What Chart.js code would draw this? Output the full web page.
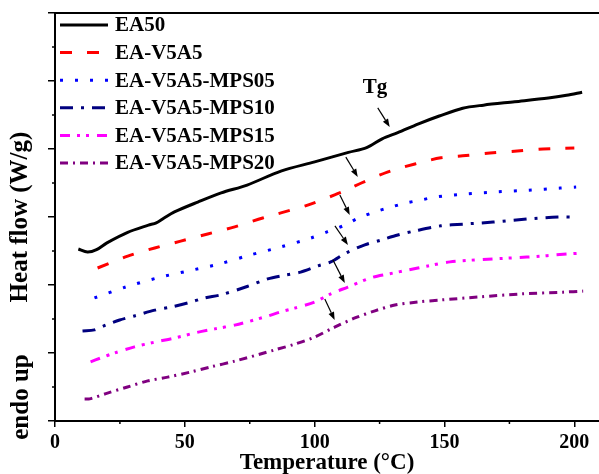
<!DOCTYPE html>
<html>
<head>
<meta charset="utf-8">
<script src="https://cdn.jsdelivr.net/npm/chart.js@4.4.1/dist/chart.umd.min.js"></script>
<style>
    html, body { margin: 0; padding: 0; background: #fff; }
    #wrap { width: 599px; height: 474px; }
</style>
</head>
<body>
<div id="wrap"><canvas id="dscChart"></canvas></div>
<script>
// Tên các mẫu
const sampleNames = ['EA50', 'EA-V5A5', 'EA-V5A5-MPS05', 'EA-V5A5-MPS10', 'EA-V5A5-MPS15', 'EA-V5A5-MPS20'];

// Nhiệt độ (°C) và heat flow (đơn vị tương đối) cho từng mẫu
const tempEA50 = [9, 12.5, 16, 20, 28, 36, 39, 42, 46, 55, 64, 74, 87, 100, 113, 120, 126, 132, 140, 148, 157, 165, 177, 190, 197, 203];
const flowEA50 = [5.06, 4.97, 5.04, 5.24, 5.55, 5.76, 5.83, 5.97, 6.15, 6.44, 6.71, 6.94, 7.35, 7.62, 7.9, 8.04, 8.3, 8.48, 8.74, 8.97, 9.2, 9.29, 9.39, 9.5, 9.58, 9.67];

const tempV5A5 = [16.4, 28, 38.4, 48.4, 58.8, 69.2, 80, 87, 97.3, 107.7, 113, 118, 128, 138.6, 148.6, 157, 167.5, 178, 188, 200];
const flowV5A5 = [4.5, 4.85, 5.09, 5.29, 5.5, 5.71, 5.97, 6.12, 6.35, 6.65, 6.82, 7.0, 7.32, 7.56, 7.74, 7.8, 7.88, 7.94, 8.0, 8.03];

const tempMPS05 = [15.2, 27.2, 39.5, 51.1, 63.4, 75, 87, 98.5, 105, 111.6, 116.6, 123.2, 129.3, 135, 141, 146.7, 158.6, 170.6, 182.5, 194.5, 200.7];
const flowMPS05 = [3.62, 3.94, 4.21, 4.41, 4.62, 4.88, 5.12, 5.38, 5.57, 5.76, 5.96, 6.15, 6.29, 6.41, 6.5, 6.59, 6.68, 6.74, 6.79, 6.85, 6.88];

const tempMPS10 = [10.6, 15.2, 19.5, 24.9, 30.6, 38.4, 44.5, 51.1, 57.6, 63.8, 73.4, 81.9, 88.5, 94.6, 101.2, 106.2, 112, 119.3, 125.5, 132, 138.6, 148.6, 157, 168.7, 181.7, 193.7, 200.3];
const flowMPS10 = [2.65, 2.68, 2.82, 2.97, 3.09, 3.26, 3.35, 3.47, 3.62, 3.71, 3.94, 4.18, 4.29, 4.38, 4.56, 4.68, 4.94, 5.18, 5.32, 5.47, 5.59, 5.74, 5.79, 5.85, 5.94, 6.0, 6.0];

const tempMPS15 = [13.7, 17.5, 22.9, 30.6, 38.4, 46.1, 53.8, 61.5, 69.2, 80.8, 86.9, 92.3, 100, 106.2, 112.8, 121.6, 128.2, 135.9, 143.6, 152.1, 166.7, 181.7, 197.2, 203];
const flowMPS15 = [1.74, 1.85, 2.0, 2.18, 2.32, 2.44, 2.59, 2.71, 2.82, 3.06, 3.21, 3.32, 3.5, 3.74, 3.94, 4.21, 4.32, 4.44, 4.56, 4.68, 4.76, 4.82, 4.91, 4.94];

const tempMPS20 = [11.4, 13.3, 20.2, 27.9, 35.7, 43.4, 52.2, 59.9, 69.2, 84.6, 92.3, 100, 107.7, 115.5, 123.2, 130.9, 139.7, 148.6, 163.7, 179.9, 195.7, 203.4];
const flowMPS20 = [0.65, 0.65, 0.82, 1.0, 1.18, 1.29, 1.44, 1.59, 1.76, 2.09, 2.26, 2.47, 2.76, 3.03, 3.24, 3.41, 3.5, 3.56, 3.65, 3.74, 3.79, 3.82];

// Nhãn trục x
const xTickLabels = [0, 50, 100, 150, 200];

// Mũi tên Tg (điểm đầu / điểm cuối theo dữ liệu)
const arrowFrom = [[124.3, 9.21], [112.0, 7.76], [109.7, 6.65], [107.8, 5.74], [107.0, 4.74], [103.9, 3.59]];
const arrowTo = [[128.9, 8.65], [116.6, 7.18], [113.5, 6.06], [112.8, 5.18], [111.6, 4.06], [107.7, 2.97]];
const tgLabel = 'Tg';
const tgLabelPos = [123.2, 9.82];

const FONT = "'Liberation Serif', 'Times New Roman', serif";

function toPoints(xs, ys) {
    return xs.map((x, i) => ({x: x, y: ys[i]}));
}

const seriesStyle = [
    {color: '#000000', dash: [], width: 3},
    {color: '#ff0000', dash: [12, 15], width: 3},
    {color: '#0000ff', dash: [3, 12], width: 3},
    {color: '#00007f', dash: [13, 8, 3, 8], width: 3},
    {color: '#ff00ff', dash: [10, 7, 3, 6, 3, 8], width: 3},
    {color: '#800080', dash: [8, 5, 2, 5], width: 3}
];
const seriesData = [
    toPoints(tempEA50, flowEA50),
    toPoints(tempV5A5, flowV5A5),
    toPoints(tempMPS05, flowMPS05),
    toPoints(tempMPS10, flowMPS10),
    toPoints(tempMPS15, flowMPS15),
    toPoints(tempMPS20, flowMPS20)
];

// Plugin vẽ khung, vạch phụ, mũi tên, chú thích
const decorPlugin = {
    id: 'decor',
    afterDatasetsDraw(chart) {
        const ctx = chart.ctx;
        const xs = chart.scales.x, ys = chart.scales.y;
        const area = chart.chartArea;
        ctx.save();
        ctx.strokeStyle = '#000';

        // đường khung trên
        ctx.lineWidth = 2;
        ctx.beginPath();
        ctx.moveTo(area.left - 1, area.top);
        ctx.lineTo(area.right, area.top);
        ctx.stroke();

        // vạch phụ
        ctx.lineWidth = 1.5;
        for (let v = 1; v < 12; v += 2) {
            const py = ys.getPixelForValue(v);
            ctx.beginPath();
            ctx.moveTo(area.left - 3, py);
            ctx.lineTo(area.left, py);
            ctx.stroke();
        }
        for (let v = 25; v < 210; v += 50) {
            const px = xs.getPixelForValue(v);
            ctx.beginPath();
            ctx.moveTo(px, area.bottom);
            ctx.lineTo(px, area.bottom + 3);
            ctx.stroke();
        }

        // mũi tên Tg
        ctx.fillStyle = '#000';
        ctx.lineWidth = 1.2;
        arrowFrom.forEach((p, i) => {
            const x1 = xs.getPixelForValue(p[0]), y1 = ys.getPixelForValue(p[1]);
            const x2 = xs.getPixelForValue(arrowTo[i][0]), y2 = ys.getPixelForValue(arrowTo[i][1]);
            const ang = Math.atan2(y2 - y1, x2 - x1);
            const head = 8, half = 3;
            const bx = x2 - head * Math.cos(ang), by = y2 - head * Math.sin(ang);
            ctx.beginPath();
            ctx.moveTo(x1, y1);
            ctx.lineTo(bx, by);
            ctx.stroke();
            ctx.beginPath();
            ctx.moveTo(x2, y2);
            ctx.lineTo(bx + half * Math.sin(ang), by - half * Math.cos(ang));
            ctx.lineTo(bx - half * Math.sin(ang), by + half * Math.cos(ang));
            ctx.closePath();
            ctx.fill();
        });

        // chữ Tg
        ctx.font = 'bold 21px ' + FONT;
        ctx.textAlign = 'center';
        ctx.textBaseline = 'middle';
        ctx.fillText(tgLabel, xs.getPixelForValue(tgLabelPos[0]), ys.getPixelForValue(tgLabelPos[1]));

        // chú thích
        ctx.textAlign = 'left';
        chart.data.datasets.forEach((ds, i) => {
            const y = area.top + 12 + i * 27.6;
            ctx.save();
            ctx.strokeStyle = ds.borderColor;
            ctx.lineWidth = ds.borderWidth;
            ctx.setLineDash(ds.borderDash);
            ctx.beginPath();
            ctx.moveTo(area.left + 5, y);
            ctx.lineTo(area.left + 53, y);
            ctx.stroke();
            ctx.restore();
            ctx.fillStyle = '#000';
            ctx.fillText(ds.label, area.left + 60, y + 1);
        });

        // "endo up"
        ctx.save();
        ctx.font = 'bold 25px ' + FONT;
        ctx.translate(22, 397);
        ctx.rotate(-Math.PI / 2);
        ctx.textAlign = 'center';
        ctx.fillText('endo up', 0, 0);
        ctx.restore();

        ctx.restore();
    }
};

document.addEventListener('DOMContentLoaded', function () {
    const ctx = document.getElementById('dscChart').getContext('2d');
    new Chart(ctx, {
        type: 'line',
        data: {
            datasets: sampleNames.map((name, i) => ({
                label: name,
                data: seriesData[i],
                borderColor: seriesStyle[i].color,
                backgroundColor: seriesStyle[i].color,
                borderDash: seriesStyle[i].dash,
                borderWidth: seriesStyle[i].width,
                pointRadius: 0,
                tension: 0.3,
                fill: false
            }))
        },
        options: {
            responsive: true,
            maintainAspectRatio: false,
            animation: false,
            layout: {padding: {top: 13, right: 0, bottom: 0, left: 0}},
            plugins: {
                legend: {display: false},
                tooltip: {enabled: false}
            },
            scales: {
                x: {
                    type: 'linear',
                    min: 0,
                    max: 209.5,
                    afterFit: s => { s.height = 53; },
                    afterBuildTicks: s => { s.ticks = xTickLabels.map(v => ({value: v})); },
                    ticks: {
                        color: '#000',
                        padding: 4,
                        maxRotation: 0,
                        font: {family: FONT, size: 20, weight: 'bold'}
                    },
                    grid: {drawOnChartArea: false, tickLength: 6, color: '#000', lineWidth: 1.5},
                    border: {color: '#000', width: 2},
                    title: {
                        display: true,
                        text: 'Temperature (°C)',
                        color: '#000',
                        padding: {top: 0, bottom: -3},
                        font: {family: FONT, size: 23, weight: 'bold'}
                    }
                },
                y: {
                    min: 0,
                    max: 12,
                    afterFit: s => { s.width = 55; },
                    ticks: {display: false, stepSize: 2},
                    grid: {drawOnChartArea: false, tickLength: 7, color: '#000', lineWidth: 1.5},
                    border: {color: '#000', width: 2},
                    title: {
                        display: true,
                        text: 'Heat flow (W/g)',
                        color: '#000',
                        padding: {top: 6, bottom: 0},
                        font: {family: FONT, size: 25, weight: 'bold'}
                    }
                }
            }
        },
        plugins: [decorPlugin]
    });
});
</script>
</body>
</html>
